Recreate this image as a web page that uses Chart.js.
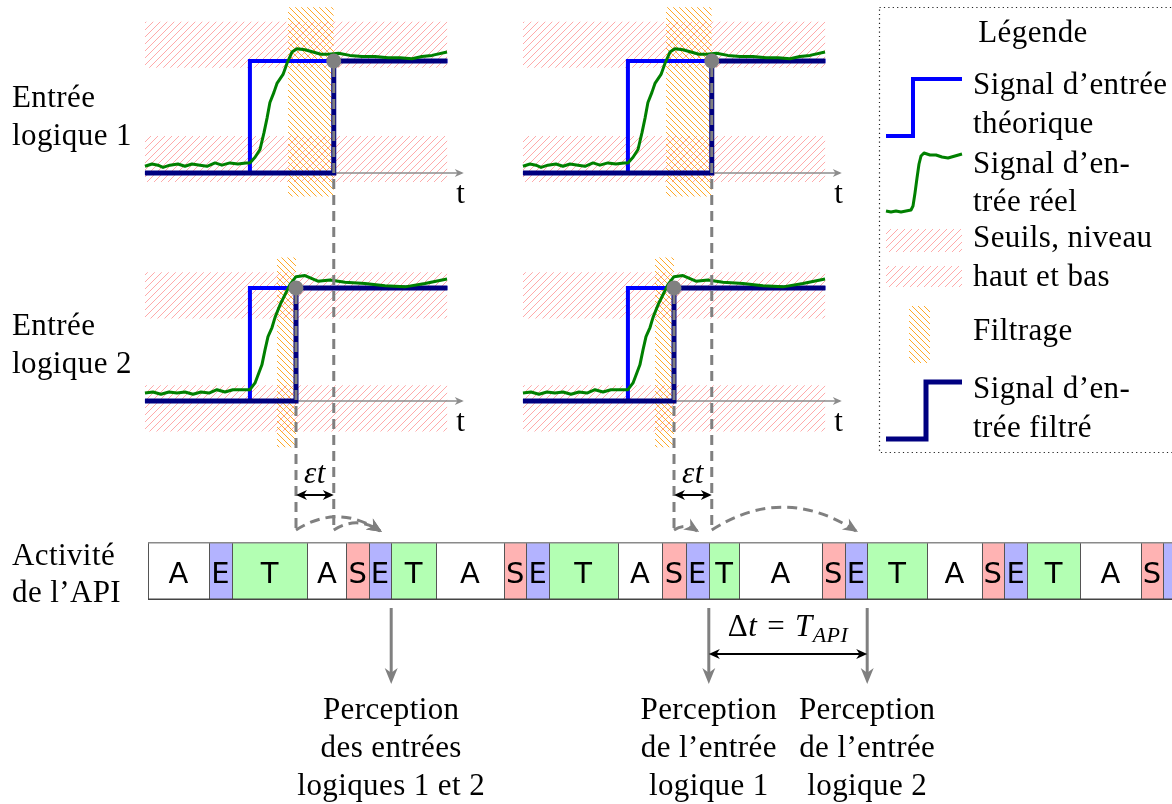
<!DOCTYPE html>
<html lang="fr">
<head>
<meta charset="utf-8">
<title>Entrées logiques et cycle de l'API</title>
<script src="https://cdn.jsdelivr.net/npm/chart.js@4.4.1/dist/chart.umd.min.js"></script>
<style>
  html, body { margin: 0; padding: 0; background: #fff; }
  #wrap { position: relative; width: 1172px; height: 804px; overflow: hidden; }
  #main { position: absolute; left: 0; top: 0; }
  #api { position: absolute; left: 0; top: 542px; }
</style>
</head>
<body>
<div id="wrap">
  <canvas id="main" width="1172" height="804"></canvas>
  <canvas id="api" width="1172" height="58"></canvas>
</div>
<script>
// time axis in ms, origin at the start of the left panels
const T_MIN = -9.06, T_MAX = 64.19;
const SCENARIO_SHIFT = [0, 23.625];   // left panels, right panels
const T_END = 18.9;                   // end of each trace
const T_AXIS_END = 19.8;              // end of the t arrow

// Entrée logique 1 (levels: 0 = bas, 1 = haut)
const in1Theory = 6.56;
const in1Filter = [8.94, 11.8];
const in1HighBand = [0.94, 1.35];
const in1LowBand = [-0.08, 0.33];
const in1FilterBand = [-0.21, 1.48];
const in1RealT = [0, 0.44, 0.81, 1.13, 1.56, 2.06, 2.5, 2.94, 3.44, 3.88, 4.38, 4.81, 5.31, 5.81, 6.31,
  6.56, 6.88, 7.19, 7.44, 7.63, 7.81, 8.06, 8.25, 8.63, 8.88, 9.19, 9.5, 10.0, 10.5, 11.0,
  11.5, 12.1, 12.8, 13.56, 14.38, 15.19, 15.94, 16.69, 17.31, 17.94, 18.88];
const in1RealV = [0.06, 0.08, 0.07, 0.05, 0.07, 0.08, 0.06, 0.08, 0.07, 0.06, 0.09, 0.07, 0.09, 0.08, 0.09,
  0.09, 0.14, 0.21, 0.36, 0.49, 0.63, 0.72, 0.80, 0.88, 0.98, 1.08, 1.11, 1.10, 1.08, 1.06,
  1.06, 1.07, 1.05, 1.04, 1.04, 1.03, 1.03, 1.02, 1.04, 1.05, 1.08];

// Entrée logique 2
const in2Theory = 6.56;
const in2Filter = [8.25, 9.44];
const in2HighBand = [0.73, 1.14];
const in2LowBand = [-0.27, 0.14];
const in2FilterBand = [-0.41, 1.27];
const in2RealT = [0, 0.5, 1.0, 1.5, 2.0, 2.5, 3.0, 3.5, 4.0, 4.5, 5.0, 5.5, 6.0,
  6.56, 6.88, 7.31, 7.5, 7.69, 7.94, 8.13, 8.44, 8.75, 9.06, 9.44, 10.0, 10.81, 11.56, 12.5,
  13.75, 15.0, 16.25, 17.5, 18.88];
const in2RealV = [0.07, 0.08, 0.06, 0.08, 0.07, 0.08, 0.06, 0.08, 0.07, 0.10, 0.08, 0.10, 0.10,
  0.10, 0.16, 0.32, 0.45, 0.57, 0.65, 0.74, 0.85, 0.94, 1.03, 1.10, 1.11, 1.06, 1.07, 1.05,
  1.04, 1.02, 1.01, 1.04, 1.08];

// Activité de l'API
const apiStart = 0.19;
const apiPhases = ['A','E','T','A','S','E','T','A','S','E','T','A','S','E','T','A','S','E','T','A','S','E','T','A','S','E'];
const apiDurations = [3.8, 1.45, 4.7, 2.45, 1.4, 1.4, 2.8, 4.25, 1.4, 1.4, 4.3, 2.8, 1.45, 1.45, 1.9,
  5.15, 1.45, 1.4, 3.75, 3.4, 1.4, 1.45, 3.3, 3.8, 1.4, 2.2];
const PHASE_COLORS = { A: '#ffffff', E: '#b3b3ff', T: '#b3ffb3', S: '#ffb3b3' };

const perceptionLabels = [
  ['Perception', 'des entrées', 'logiques 1 et 2'],
  ['Perception', 'de l’entrée', 'logique 1'],
  ['Perception', 'de l’entrée', 'logique 2']
];

// layout of the two rows (pixel baseline and height of one level)
const ROW_LAYOUT = [
  { id: 'y1', basePx: 173, unitPx: 112 },
  { id: 'y2', basePx: 401, unitPx: 113 }
];
const CONNECT_Y = 530;
const SERIF = '"Liberation Serif", "Times New Roman", serif';
const F = (size, style) => (style ? style + ' ' : '') + size + 'px ' + SERIF;

function hatch(color, size, dir, lw) {
  const c = document.createElement('canvas');
  c.width = size; c.height = size;
  const g = c.getContext('2d');
  g.strokeStyle = color; g.lineWidth = lw;
  g.beginPath();
  for (let k = -1; k <= 1; k++) {
    if (dir === 'ne') { g.moveTo(k * size - 1, size + 1); g.lineTo(k * size + size + 1, -1); }
    else { g.moveTo(k * size - 1, -1); g.lineTo(k * size + size + 1, size + 1); }
  }
  g.stroke();
  return g.createPattern(c, 'repeat');
}
const pinkHatch = hatch('#ffa0a0', 7, 'ne', 0.9);
const orangeHatch = hatch('#ff9a00', 6, 'nw', 0.85);

const rows = [
  { theory: in1Theory, filter: in1Filter, high: in1HighBand, low: in1LowBand, band: in1FilterBand, t: in1RealT, v: in1RealV },
  { theory: in2Theory, filter: in2Filter, high: in2HighBand, low: in2LowBand, band: in2FilterBand, t: in2RealT, v: in2RealV }
];

const datasets = [];
const flat = { borderWidth: 0, pointRadius: 0 };
rows.forEach((row, r) => {
  const axis = ROW_LAYOUT[r].id;
  SCENARIO_SHIFT.forEach(sh => {
    const seg = (a, b, v) => [{ x: a + sh, y: v }, { x: b + sh, y: v }];
    [row.high, row.low].forEach(b => {
      datasets.push({ ...flat, data: seg(0, T_END, b[1]), fill: '+1', backgroundColor: pinkHatch, yAxisID: axis, order: 9 });
      datasets.push({ ...flat, data: seg(0, T_END, b[0]), fill: false, yAxisID: axis, order: 9 });
    });
    datasets.push({ ...flat, data: seg(row.filter[0], row.filter[1], row.band[1]), fill: '+1', backgroundColor: orangeHatch, yAxisID: axis, order: 8 });
    datasets.push({ ...flat, data: seg(row.filter[0], row.filter[1], row.band[0]), fill: false, yAxisID: axis, order: 8 });
    datasets.push({ data: seg(0, T_AXIS_END, 0), borderColor: '#8c8c8c', borderWidth: 1.5, pointRadius: 0, yAxisID: axis, order: 7 });
    datasets.push({
      data: [{ x: sh, y: 0 }, { x: row.theory + sh, y: 0 }, { x: row.theory + sh, y: 1 }, { x: T_END + sh, y: 1 }],
      borderColor: '#0000ff', borderWidth: 4, pointRadius: 0, yAxisID: axis, order: 6
    });
    datasets.push({
      data: [{ x: sh, y: 0 }, { x: row.filter[1] + sh, y: 0 }, { x: row.filter[1] + sh, y: 1 }, { x: T_END + sh, y: 1 }],
      borderColor: '#000080', borderWidth: 5, pointRadius: 0, yAxisID: axis, order: 5
    });
    datasets.push({
      data: row.t.map((t, i) => ({ x: t + sh, y: row.v[i] })),
      borderColor: '#008000', borderWidth: 3, pointRadius: 0, borderJoinStyle: 'round', yAxisID: axis, order: 4
    });
    datasets.push({
      data: [{ x: row.filter[1] + sh, y: 1 }], showLine: false, pointRadius: 7.5,
      pointBackgroundColor: '#808080', pointBorderWidth: 0, yAxisID: axis, order: 0
    });
  });
});

let acc = apiStart;
const apiCells = apiPhases.map((p, i) => {
  const c = { phase: p, start: acc, end: acc + apiDurations[i] };
  acc = c.end;
  return c;
});

function stealth(ctx, x, y, ang, len, half, color) {
  ctx.save();
  ctx.translate(x, y); ctx.rotate(ang);
  ctx.fillStyle = color; ctx.setLineDash([]);
  ctx.beginPath();
  ctx.moveTo(0, 0); ctx.lineTo(-len, -half); ctx.lineTo(-len * 0.7, 0); ctx.lineTo(-len, half);
  ctx.closePath(); ctx.fill();
  ctx.restore();
}

function poly(ctx, pts) {
  ctx.beginPath();
  pts.forEach((p, i) => i ? ctx.lineTo(p[0], p[1]) : ctx.moveTo(p[0], p[1]));
  ctx.stroke();
}

function perceptionTime(step) {
  return apiCells.find(c => c.phase === 'E' && c.start >= step);
}

const figurePlugin = {
  id: 'figure',
  afterDatasetsDraw(chart) {
    const ctx = chart.ctx;
    const X = t => chart.scales.x.getPixelForValue(t);
    const ys = ROW_LAYOUT.map(l => chart.scales[l.id]);
    ctx.save();
    ctx.letterSpacing = '0.4px';

    // t axes: arrowheads and labels
    ys.forEach(sc => SCENARIO_SHIFT.forEach(sh => {
      const xa = X(T_AXIS_END + sh), y0 = sc.getPixelForValue(0);
      stealth(ctx, xa + 2, y0, 0, 9, 4, '#8c8c8c');
      ctx.fillStyle = '#000'; ctx.font = F(31); ctx.textAlign = 'center';
      ctx.fillText('t', xa - 1, y0 + 30);
    }));

    const perceptions = [];
    SCENARIO_SHIFT.forEach(sh => {
      const steps = rows.map(r => r.filter[1] + sh);
      // dashed drops from the filtered signals
      ctx.strokeStyle = '#808080'; ctx.lineWidth = 3; ctx.setLineDash([10, 6]);
      steps.forEach((s, r) => {
        ctx.beginPath();
        ctx.moveTo(X(s), ys[r].getPixelForValue(1) + 6);
        ctx.lineTo(X(s), CONNECT_Y);
        ctx.stroke();
      });
      // bent arrows towards the reading phase
      steps.forEach(s => {
        const cell = perceptionTime(s);
        const xa = X(s), xb = X((cell.start + cell.end) / 2);
        const cx = (xa + xb) / 2, cy = CONNECT_Y - (xb - xa) * 0.32;
        ctx.setLineDash([10, 6]);
        ctx.beginPath(); ctx.moveTo(xa, CONNECT_Y); ctx.quadraticCurveTo(cx, cy, xb, CONNECT_Y + 1); ctx.stroke();
        stealth(ctx, xb + 2, CONNECT_Y + 2, Math.atan2(CONNECT_Y - cy, xb - cx), 15, 6.5, '#808080');
        const te = cell.end;
        if (!perceptions.some(p => Math.abs(p - te) < 1e-6)) perceptions.push(te);
      });
      // epsilon t
      const xl = X(Math.min(...steps)), xr = X(Math.max(...steps));
      ctx.setLineDash([]); ctx.strokeStyle = '#000'; ctx.lineWidth = 2;
      ctx.beginPath(); ctx.moveTo(xl + 4, 495); ctx.lineTo(xr - 4, 495); ctx.stroke();
      stealth(ctx, xr, 495, 0, 11, 5, '#000');
      stealth(ctx, xl, 495, Math.PI, 11, 5, '#000');
      ctx.fillStyle = '#000'; ctx.font = F(31, 'italic'); ctx.textAlign = 'center';
      ctx.fillText('εt', (xl + xr) / 2, 483);
    });

    // perception arrows and texts
    perceptions.sort((a, b) => a - b);
    perceptions.forEach((te, i) => {
      const x = X(te);
      ctx.setLineDash([]); ctx.strokeStyle = '#808080'; ctx.lineWidth = 3;
      ctx.beginPath(); ctx.moveTo(x, 608); ctx.lineTo(x, 676); ctx.stroke();
      stealth(ctx, x, 684, Math.PI / 2, 16, 6.5, '#808080');
      ctx.fillStyle = '#000'; ctx.font = F(31); ctx.textAlign = 'center';
      perceptionLabels[i].forEach((s, k) => ctx.fillText(s, x, 719 + k * 38));
    });

    // delta t = T_API
    const xa = X(perceptions[1]), xb = X(perceptions[2]);
    ctx.strokeStyle = '#000'; ctx.lineWidth = 2;
    ctx.beginPath(); ctx.moveTo(xa + 4, 654); ctx.lineTo(xb - 4, 654); ctx.stroke();
    stealth(ctx, xb, 654, 0, 11, 5, '#000');
    stealth(ctx, xa, 654, Math.PI, 11, 5, '#000');
    const parts = [
      { s: 'Δ', f: F(31), dy: 0, gap: 0 },
      { s: 't', f: F(31, 'italic'), dy: 0, gap: 10 },
      { s: '=', f: F(31), dy: 0, gap: 10 },
      { s: 'T', f: F(31, 'italic'), dy: 0, gap: 0 },
      { s: 'API', f: F(22, 'italic'), dy: 6, gap: 0 }
    ];
    let w = 0;
    parts.forEach(p => { ctx.font = p.f; p.w = ctx.measureText(p.s).width; w += p.w + p.gap; });
    let px = (xa + xb) / 2 - w / 2;
    ctx.textAlign = 'left';
    parts.forEach(p => { ctx.font = p.f; ctx.fillText(p.s, px, 636 + p.dy); px += p.w + p.gap; });

    // row labels
    ctx.font = F(31); ctx.textAlign = 'left';
    [['Entrée', 107], ['logique 1', 145], ['Entrée', 335], ['logique 2', 373], ['Activité', 565], ['de l’API', 602]]
      .forEach(([s, y]) => ctx.fillText(s, 12, y));

    // legend
    ctx.setLineDash([1.2, 3.2]); ctx.strokeStyle = '#222'; ctx.lineWidth = 1.2;
    ctx.strokeRect(879.5, 7.5, 320, 445);
    ctx.setLineDash([]);
    ctx.lineJoin = 'miter';
    ctx.strokeStyle = '#0000ff'; ctx.lineWidth = 4;
    poly(ctx, [[886, 136], [913, 136], [913, 79], [962, 79]]);
    ctx.strokeStyle = '#008000'; ctx.lineWidth = 3; ctx.lineJoin = 'round';
    poly(ctx, [[886, 211], [891, 212], [896, 211], [901, 212], [906, 211], [911, 210], [913, 206], [915, 193],
      [917, 178], [919, 164], [921, 156], [924, 153], [930, 155], [936, 155], [942, 157], [948, 158], [955, 156], [962, 154]]);
    ctx.fillStyle = pinkHatch;
    ctx.fillRect(886, 229, 76, 23); ctx.fillRect(886, 266, 76, 21);
    ctx.fillStyle = orangeHatch;
    ctx.fillRect(909, 306, 21, 57);
    ctx.strokeStyle = '#000080'; ctx.lineWidth = 5; ctx.lineJoin = 'miter';
    poly(ctx, [[886, 439], [926, 439], [926, 382], [962, 382]]);
    ctx.fillStyle = '#000'; ctx.font = F(31);
    ctx.textAlign = 'center'; ctx.fillText('Légende', 1033, 42);
    ctx.textAlign = 'left';
    [['Signal d’entrée', 94], ['théorique', 133], ['Signal d’en-', 173], ['trée réel', 211],
     ['Seuils, niveau', 247], ['haut et bas', 286], ['Filtrage', 340], ['Signal d’en-', 398], ['trée filtré', 437]]
      .forEach(([s, y]) => ctx.fillText(s, 973, y));
    ctx.restore();
  }
};

const rowScale = l => ({ type: 'linear', display: false, max: l.basePx / l.unitPx, min: l.basePx / l.unitPx - 804 / l.unitPx });

new Chart(document.getElementById('main'), {
  type: 'line',
  data: { datasets: datasets },
  options: {
    responsive: false,
    animation: false,
    events: [],
    layout: { padding: 0, autoPadding: false },
    plugins: { legend: { display: false }, tooltip: { enabled: false } },
    elements: { line: { tension: 0, borderJoinStyle: 'miter', borderCapStyle: 'butt' } },
    scales: {
      x: { type: 'linear', min: T_MIN, max: T_MAX, display: false },
      y1: rowScale(ROW_LAYOUT[0]),
      y2: rowScale(ROW_LAYOUT[1])
    }
  },
  plugins: [figurePlugin]
});

const apiPlugin = {
  id: 'apiCells',
  afterDatasetsDraw(chart) {
    const ctx = chart.ctx, a = chart.chartArea;
    ctx.save();
    ctx.font = '29px "DejaVu Sans", sans-serif';
    ctx.textAlign = 'center';
    chart.data.datasets.forEach((ds, i) => {
      const el = chart.getDatasetMeta(i).data[0];
      const x0 = Math.min(el.x, el.base), x1 = Math.max(el.x, el.base);
      ctx.strokeStyle = '#555'; ctx.lineWidth = 1;
      ctx.beginPath(); ctx.moveTo(Math.round(x0) + 0.5, a.top); ctx.lineTo(Math.round(x0) + 0.5, a.bottom); ctx.stroke();
      ctx.fillStyle = '#000';
      ctx.fillText(ds.label, (x0 + x1) / 2, a.top + 41);
    });
    const xs = chart.scales.x.getPixelForValue(apiStart);
    ctx.strokeStyle = '#8a8a8a'; ctx.lineWidth = 1.5;
    ctx.beginPath(); ctx.moveTo(xs, a.top + 0.75); ctx.lineTo(a.right, a.top + 0.75); ctx.stroke();
    ctx.strokeStyle = '#444';
    ctx.beginPath(); ctx.moveTo(xs, a.bottom - 0.75); ctx.lineTo(a.right, a.bottom - 0.75); ctx.stroke();
    ctx.restore();
  }
};

new Chart(document.getElementById('api'), {
  type: 'bar',
  data: {
    labels: ['API'],
    datasets: apiCells.map(c => ({
      label: c.phase,
      data: [[c.start, c.end]],
      backgroundColor: PHASE_COLORS[c.phase],
      borderWidth: 0,
      grouped: false,
      barPercentage: 1,
      categoryPercentage: 1
    }))
  },
  options: {
    indexAxis: 'y',
    responsive: false,
    animation: false,
    events: [],
    layout: { padding: 0, autoPadding: false },
    plugins: { legend: { display: false }, tooltip: { enabled: false } },
    scales: {
      x: { type: 'linear', min: T_MIN, max: T_MAX, display: false },
      y: { display: false }
    }
  },
  plugins: [apiPlugin]
});
</script>
</body>
</html>
